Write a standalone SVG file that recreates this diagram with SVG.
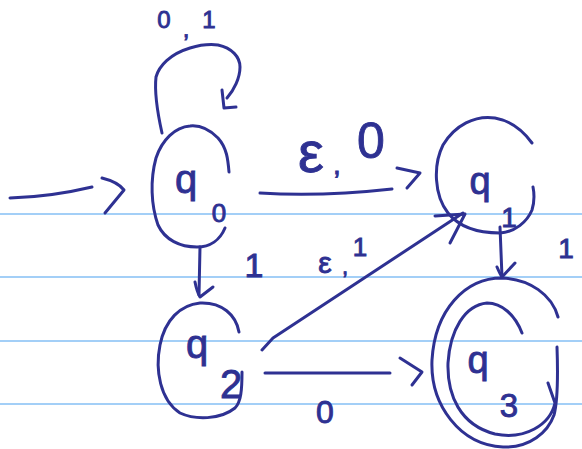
<svg xmlns="http://www.w3.org/2000/svg" width="582" height="449" viewBox="0 0 582 449">
<style>
.rule{stroke:#a3cff7;stroke-width:2;fill:none}
.ink{stroke:#2e3192;stroke-width:3;fill:none;stroke-linecap:round;stroke-linejoin:round}
.t{fill:#2e3192;stroke:#2e3192;stroke-width:0.9;font-family:"Liberation Sans","DejaVu Sans",sans-serif;text-anchor:middle}
</style>
<rect width="582" height="449" fill="#ffffff"/>
<g id="ruling">
<line class="rule" x1="0" y1="214" x2="582" y2="214"/>
<line class="rule" x1="0" y1="277" x2="582" y2="277"/>
<line class="rule" x1="0" y1="341" x2="582" y2="341"/>
<line class="rule" x1="0" y1="404" x2="582" y2="404"/>
</g>
<g id="connectors">
<!-- start -->
<path class="ink" d="M10,198 Q50,197 92,187"/>
<path class="ink" d="M102,178 Q118,182 124,190 L105,213"/>
<!-- self loop q0 -->
<path class="ink" d="M162,133 C158,115 154,95 156,77 C159,66 170,54 190,48 C200,45 210,44 218,45 C232,48 240,57 240,67 C240,78 234,90 227,98"/>
<path class="ink" d="M222,90 L224,108 L236,107"/>
<text class="t" font-size="24"><tspan x="164" y="28">0</tspan><tspan x="186" y="37">,</tspan><tspan x="209" y="28">1</tspan></text>
<!-- q0 -> q1 -->
<path class="ink" d="M260,193 Q320,197 392,189"/>
<path class="ink" d="M397,168 L420,173 L407,188"/>
<text class="t"><tspan x="311" y="172" font-size="58">ε</tspan><tspan x="337" y="174" font-size="28">,</tspan><tspan x="371" y="158" font-size="50">0</tspan></text>
<!-- q0 -> q2 -->
<path class="ink" d="M200,247 L199,295"/>
<path class="ink" d="M195,282 Q197,292 200,297 L213,287"/>
<text class="t" x="254" y="277" font-size="34">1</text>
<!-- q1 -> q3 -->
<path class="ink" d="M500,227 Q501,250 502,277"/>
<path class="ink" d="M497,267 Q500,274 502,277 L515,263"/>
<text class="t" x="566" y="258" font-size="28">1</text>
<!-- q2 -> q1 -->
<path class="ink" d="M262,350 L273,338 L463,213"/>
<path class="ink" d="M435,216 L465,214 L450,243"/>
<text class="t"><tspan x="325" y="273" font-size="30">ε</tspan><tspan x="345" y="274" font-size="22">,</tspan><tspan x="360" y="256" font-size="26">1</tspan></text>
<!-- q2 -> q3 -->
<path class="ink" d="M265,373 L390,373"/>
<path class="ink" d="M400,358 L422,372 L412,385"/>
<text class="t" x="325" y="423" font-size="32">0</text>
</g>
<g id="q0">
<path class="ink" d="M229,172 C228,160 227,148 218,138 C210,130 200,125 190,126 C175,127 162,140 156,158 C150,180 151,205 158,225 C165,240 180,247 197,247 C210,247 220,240 225,228"/>
<text class="t" x="186" y="193" font-size="40">q</text>
<text class="t" x="219" y="222" font-size="26">0</text>
</g>
<g id="q1">
<path class="ink" d="M532,143 C524,132 512,121 495,118 C475,115 455,125 443,145 C433,165 434,195 448,213 C460,228 478,233 500,233 C515,232 527,222 532,210 C535,200 534,192 533,187"/>
<text class="t" x="480" y="194" font-size="38">q</text>
<text class="t" x="509" y="227" font-size="28">1</text>
</g>
<g id="q2">
<path class="ink" d="M239,332 C236,315 222,302 200,303 C180,305 165,320 160,345 C155,370 160,400 180,413 C195,420 220,420 235,408 C241,402 242,390 242,372"/>
<text class="t" x="197" y="358" font-size="40">q</text>
<text class="t" x="231" y="398" font-size="40">2</text>
</g>
<g id="q3">
<path class="ink" d="M558,317 C552,295 530,279 502,278 C465,278 435,310 432,360 C430,405 460,445 503,447 C530,448 548,432 554,415 C558,400 558,375 557,347"/>
<path class="ink" d="M522,333 C515,315 502,303 487,303 C465,305 450,330 448,363 C447,395 460,425 495,434 C525,440 550,425 555,403 L548,383"/>
<text class="t" x="478" y="373" font-size="38">q</text>
<text class="t" x="509" y="417" font-size="33">3</text>
</g>
</svg>
